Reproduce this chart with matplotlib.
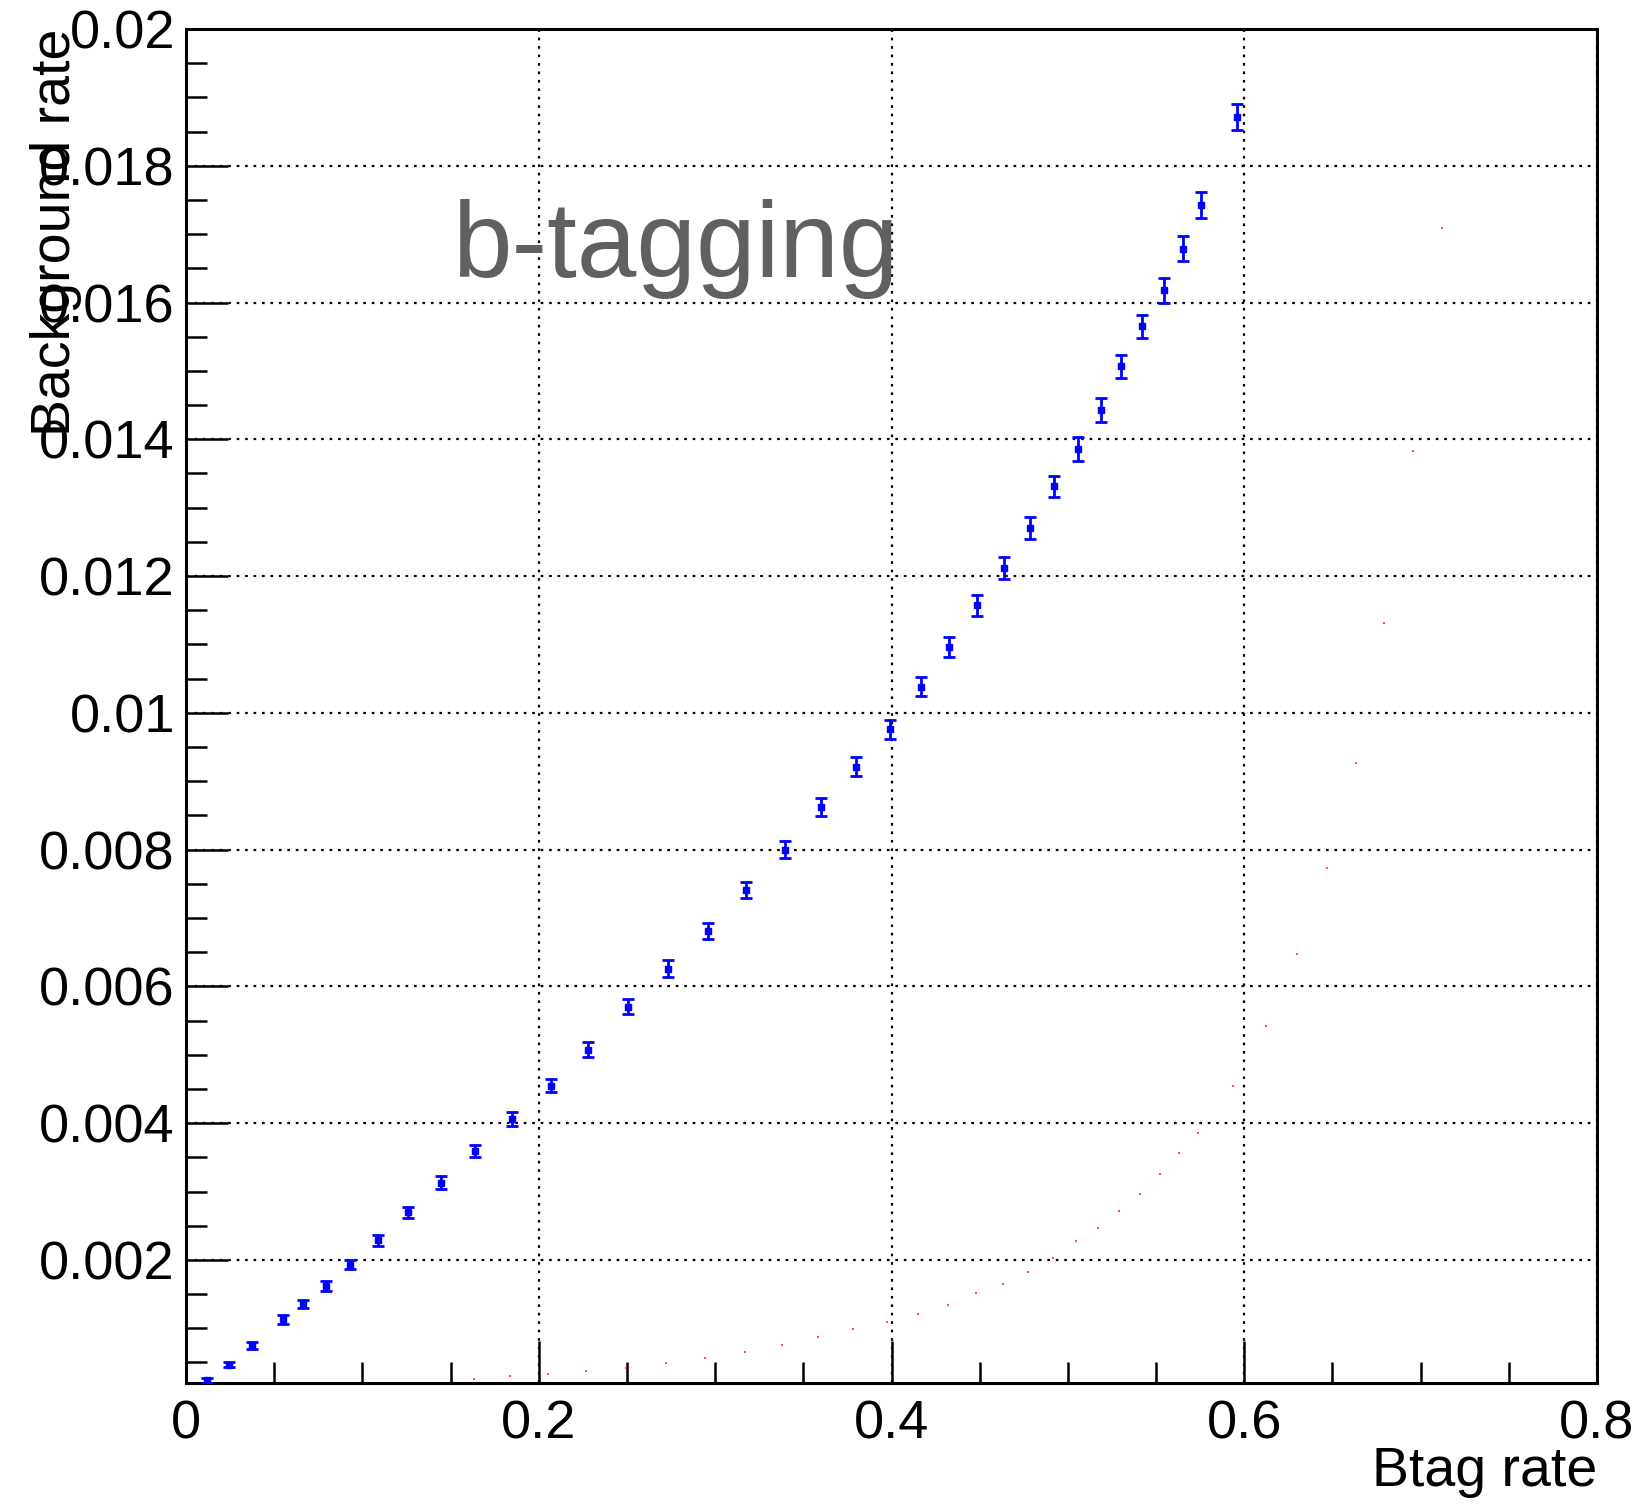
import matplotlib
matplotlib.use("Agg")
import matplotlib.pyplot as plt
from matplotlib.ticker import MultipleLocator, FuncFormatter

plt.rcParams['font.family'] = ['Liberation Sans', 'DejaVu Sans']

# blue series: btag rate vs background rate (with errors)
btag_blue = [0.0119, 0.0242, 0.0372, 0.0550, 0.0665, 0.0791, 0.093, 0.109, 0.126, 0.1446,
             0.164, 0.185, 0.2068, 0.2281, 0.2507, 0.2732, 0.2957, 0.3176, 0.3396, 0.3603,
             0.3798, 0.3991, 0.4167, 0.4326, 0.4486, 0.464, 0.4788, 0.4924, 0.5055, 0.5185,
             0.5304, 0.5422, 0.5543, 0.5652, 0.5757, 0.5958]
bkg_blue = [0.00024, 0.00047, 0.00075, 0.00113, 0.00136, 0.00162, 0.00193, 0.00229, 0.00270, 0.00313,
            0.00359, 0.00406, 0.00455, 0.00507, 0.00570, 0.00626, 0.00681, 0.00741, 0.00800, 0.00862,
            0.00921, 0.00976, 0.01038, 0.01096, 0.01157, 0.01212, 0.01270, 0.01331, 0.01386, 0.01443,
            0.01507, 0.01565, 0.01618, 0.01679, 0.01743, 0.01872]
err_blue = [0.00004, 0.00004, 0.00005, 0.00006, 0.00006, 0.00007, 0.00007, 0.00008, 0.00008, 0.00009,
            0.00009, 0.00010, 0.00010, 0.00011, 0.00011, 0.00012, 0.00012, 0.00012, 0.00013, 0.00013,
            0.00014, 0.00014, 0.00014, 0.00015, 0.00015, 0.00016, 0.00016, 0.00016, 0.00017, 0.00017,
            0.00017, 0.00017, 0.00018, 0.00018, 0.00019, 0.00019]

# red series (tiny markers)
btag_red = [0.1633, 0.1836, 0.2051, 0.2270, 0.2496, 0.2721, 0.2945, 0.3167, 0.3381, 0.3584,
            0.3783, 0.3976, 0.4153, 0.4320, 0.4481, 0.4634, 0.4774, 0.4913, 0.5044, 0.5171,
            0.5292, 0.5411, 0.5522, 0.5631, 0.5737, 0.5934, 0.6125, 0.6301, 0.647, 0.6635,
            0.6795, 0.6959, 0.7119]
bkg_red = [0.00026, 0.00030, 0.00033, 0.00038, 0.00042, 0.00049, 0.00057, 0.00065, 0.00075, 0.00087,
           0.00099, 0.00109, 0.00121, 0.00134, 0.00152, 0.00165, 0.00183, 0.00203, 0.00227, 0.00246,
           0.00271, 0.00297, 0.00326, 0.00356, 0.00386, 0.00455, 0.00542, 0.00648, 0.00773, 0.00927,
           0.01132, 0.01383, 0.01709]

fig = plt.figure(figsize=(16.39, 15.04), dpi=100)
ax = fig.add_axes([186/1639, 1 - 1383/1504, 1411/1639, 1354/1504])

ax.set_xlim(0, 0.8)
ax.set_ylim(0.0002, 0.02)

ax.grid(True, which='major', color='black', linestyle=(0, (1.2, 2.6)), linewidth=1.6)
ax.set_axisbelow(True)

ax.errorbar(btag_blue, bkg_blue, yerr=err_blue, fmt='s', color='blue', markersize=3.8,
            elinewidth=2.0, capsize=4.5, capthick=2.0, zorder=3)
ax.plot(btag_red, bkg_red, 's', color='#ff3030', markersize=2.1, markeredgewidth=0, alpha=0.85, zorder=3)

ax.xaxis.set_major_locator(MultipleLocator(0.2))
ax.xaxis.set_minor_locator(MultipleLocator(0.05))
ax.yaxis.set_major_locator(MultipleLocator(0.002))
ax.yaxis.set_minor_locator(MultipleLocator(0.0005))
fmt = FuncFormatter(lambda v, p: f"{v:g}")
ax.xaxis.set_major_formatter(fmt)
ax.yaxis.set_major_formatter(fmt)

ax.tick_params(which='both', direction='in', top=False, right=False, width=1.8, labelsize=39)
ax.tick_params(which='major', length=30)
ax.tick_params(which='minor', length=15)
ax.tick_params(axis='x', pad=12)
ax.tick_params(axis='y', pad=8)
for s in ax.spines.values():
    s.set_linewidth(2.2)

ax.text(0.1506, 0.01678, "b-tagging", fontsize=77, color='#606060', ha='left', va='center')

fig.text(1597/1639, 1 - 1486/1504, "Btag rate", fontsize=40, ha='right', va='baseline')
fig.text(30/1639, 1 - 29/1504, "Background rate", fontsize=40, rotation=90, ha='left', va='top')

fig.savefig("out.png", dpi=100)
